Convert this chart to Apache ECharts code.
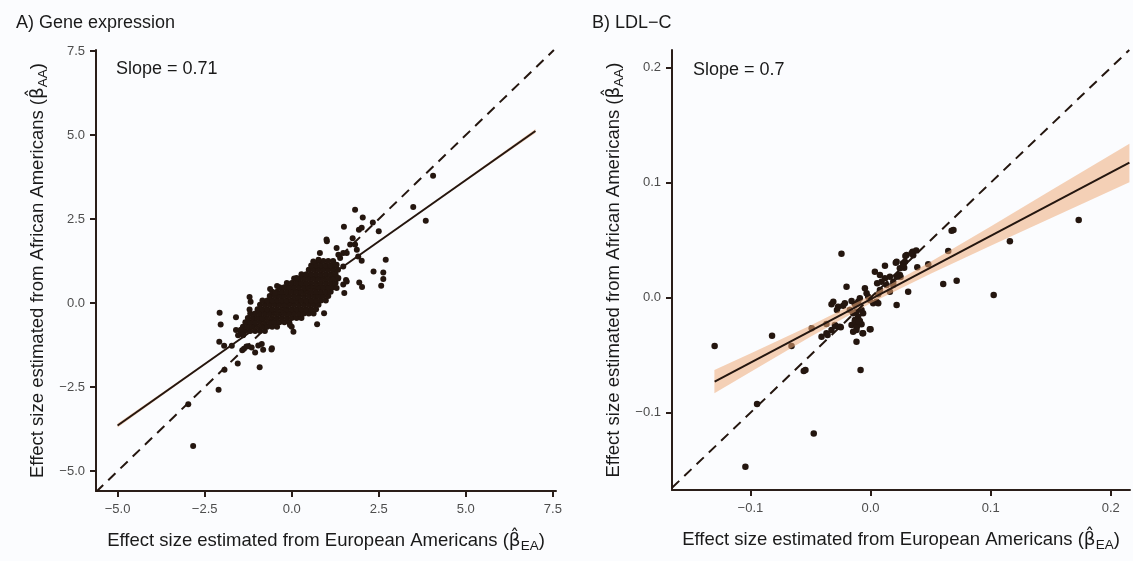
<!DOCTYPE html>
<html><head><meta charset="utf-8">
<script src="https://cdn.jsdelivr.net/npm/echarts@6/dist/echarts.min.js"></script>
<style>html,body{margin:0;padding:0;background:#fbfcfe}#c{width:1133px;height:561px}</style>
</head><body><div id="c"></div>
<script>
// ---- tick values / labels ----
const geneTicks = [-5, -2.5, 0, 2.5, 5, 7.5];
const geneTickLabels = ['\u22125.0', '\u22122.5', '0.0', '2.5', '5.0', '7.5'];
const ldlTicks = [-0.1, 0, 0.1, 0.2];
const ldlTickLabels = ['\u22120.1', '0.0', '0.1', '0.2'];

// ---- Panel A: gene expression (dense core read row by row: [y, xs]) ----
const geneCoreRows = [
  [-0.96, [-1.54, -1.40]],
  [-0.83, [-1.47, -1.33, -1.19, -1.05, -0.91, -0.77]],
  [-0.70, [-1.40, -1.26, -1.12, -0.98, -0.84, -0.70, -0.56, -0.42]],
  [-0.57, [-1.33, -1.19, -1.05, -0.91, -0.77, -0.63, -0.49, -0.35, -0.21, -0.07]],
  [-0.44, [-1.26, -1.12, -0.98, -0.84, -0.70, -0.56, -0.42, -0.28, -0.14, 0.00, 0.14, 0.28]],
  [-0.31, [-1.19, -1.05, -0.91, -0.77, -0.63, -0.49, -0.35, -0.21, -0.07, 0.07, 0.21, 0.35, 0.49, 0.63]],
  [-0.18, [-0.98, -0.84, -0.70, -0.56, -0.42, -0.28, -0.14, 0.00, 0.14, 0.28, 0.42, 0.56, 0.70]],
  [-0.05, [-0.91, -0.77, -0.63, -0.49, -0.35, -0.21, -0.07, 0.07, 0.21, 0.35, 0.49, 0.63, 0.77]],
  [0.08, [-0.84, -0.70, -0.56, -0.42, -0.28, -0.14, 0.00, 0.14, 0.28, 0.42, 0.56, 0.70, 0.84, 0.98]],
  [0.21, [-0.63, -0.49, -0.35, -0.21, -0.07, 0.07, 0.21, 0.35, 0.49, 0.63, 0.77, 0.91, 1.05]],
  [0.34, [-0.56, -0.42, -0.28, -0.14, 0.00, 0.14, 0.28, 0.42, 0.56, 0.70, 0.84, 0.98, 1.12]],
  [0.47, [-0.35, -0.21, -0.07, 0.07, 0.21, 0.35, 0.49, 0.63, 0.77, 0.91, 1.05, 1.19]],
  [0.60, [-0.14, 0.00, 0.14, 0.28, 0.42, 0.56, 0.70, 0.84, 0.98, 1.12, 1.26]],
  [0.73, [0.07, 0.21, 0.35, 0.49, 0.63, 0.77, 0.91, 1.05, 1.19, 1.33]],
  [0.86, [0.28, 0.42, 0.56, 0.70, 0.84, 0.98, 1.12, 1.26]],
  [0.99, [0.49, 0.63, 0.77, 0.91, 1.05, 1.19, 1.33]],
  [1.12, [0.56, 0.70, 0.84, 0.98, 1.12, 1.26]],
  [1.25, [0.77, 0.91, 1.05, 1.19]]
];
// scattered points around the core
const geneEdgePoints = [
  [1.82, 2.78], [1.50, 2.27], [2.04, 2.55], [1.93, 2.18], [2.01, 2.24], [2.33, 2.40], [2.50, 2.14],
  [1.00, 1.89], [1.75, 1.93], [1.68, 1.74], [1.82, 1.74], [0.81, 1.49], [1.29, 1.64], [1.48, 1.49],
  [1.58, 1.49], [1.87, 1.59], [1.91, 1.39], [2.01, 1.26], [2.70, 1.29], [2.35, 0.94], [2.63, 0.91],
  [2.63, 0.72], [2.57, 0.52], [1.94, 0.61], [2.02, 0.48], [1.51, 0.30], [1.56, 0.69], [1.48, 0.55],
  [1.29, 0.45], [1.34, 0.75], [1.48, 1.09], [1.58, 0.64], [1.29, 1.14], [1.39, 1.34], [1.01, 1.84],
  [1.34, 1.44], [0.77, 1.29], [0.62, 1.24], [0.93, -0.30], [0.73, -0.63], [0.05, -0.85], [0.00, -0.70],
  [-0.05, -0.65], [-0.58, -1.38], [-0.92, -1.91], [-1.55, -1.80], [-1.93, -1.98], [-2.10, -2.58],
  [-2.97, -3.01], [-2.83, -4.25], [-2.07, -0.29], [-2.04, -0.64], [-1.60, -0.42], [-2.08, -1.15],
  [-1.94, -1.27], [-1.72, -1.27], [-1.21, 0.18], [-1.18, 0.04], [-1.21, -0.19], [-1.60, -0.80],
  [-1.46, -0.79], [-1.39, -0.94], [-1.42, -1.40], [-1.37, -1.36], [-1.25, -1.28], [-1.15, -1.32],
  [-1.05, -1.47], [-0.96, -1.26], [-0.86, -1.22], [-0.82, -1.39], [-0.57, -1.34], [-1.30, -1.29],
  [-0.62, 0.42], [-0.42, 0.51], [-0.48, 0.30], [0.14, 0.75], [3.49, 2.86], [3.85, 2.45], [4.06, 3.79]
];
const geneFit = [[-5.0, -3.64], [7.0, 5.12]];
const geneBandX = [-5, -2.5, 0, 2.5, 5, 7];
const geneBandLo = [-3.70, -1.84, 0.00, 1.82, 3.63, 5.06];
const geneBandHi = [-3.58, -1.79, 0.02, 1.85, 3.69, 5.18];
const geneIdentity = [[-5.62, -5.62], [7.53, 7.53]];

// ---- Panel B: LDL-C ----
const ldlPoints = [
  [0.1733, 0.0676], [0.116, 0.049], [0.1025, 0.0023], [0.0717, 0.0148], [0.0605, 0.0119],
  [0.0675, 0.0583], [0.069, 0.0589], [0.0647, 0.0406], [0.048, 0.029], [0.0389, 0.0264],
  [0.0313, 0.0052], [0.035, 0.040], [0.038, 0.041], [0.029, 0.0363], [0.0355, 0.037],
  [0.027, 0.030], [0.028, 0.026], [0.025, 0.018], [-0.0242, 0.0383], [-0.020, 0.0096],
  [-0.031, -0.0035], [-0.0325, -0.0057], [-0.027, -0.0078], [-0.028, -0.0107], [-0.0228, -0.007],
  [-0.0214, -0.0049], [-0.0158, -0.0029], [-0.013, -0.0057], [-0.0103, -0.0035], [-0.0089, -0.0005],
  [-0.0172, -0.0107], [-0.0145, -0.0136], [-0.0117, -0.0122], [-0.0075, -0.0107], [-0.0062, -0.0136],
  [-0.0103, -0.0165], [-0.013, -0.0194], [-0.0089, -0.0203], [-0.0158, -0.0237], [-0.0117, -0.0252],
  [-0.0075, -0.0231], [-0.0047, 0.0082], [-0.0033, 0.0038], [-0.002, 0.0009], [-0.0006, -0.002],
  [0.0022, -0.0049], [0.005, -0.0035], [0.0064, 0.003], [0.0078, 0.0067], [0.0055, 0.0125],
  [0.0092, 0.0139], [0.0064, -0.0049], [0.0036, 0.0226], [0.0078, 0.0197], [0.012, 0.0169],
  [0.012, 0.0278], [0.0161, 0.0183], [0.0134, 0.011], [0.0189, 0.0139], [0.0217, 0.0313],
  [0.0244, 0.0256], [0.0272, 0.0284], [0.0244, 0.0197], [0.0217, 0.0183], [0.0161, 0.0052],
  [0.0189, 0.011], [0.0217, -0.0063], [0.0286, 0.0313], [0.030, 0.0371], [0.0342, 0.0386],
  [-0.0256, -0.0252], [-0.0297, -0.0237], [-0.0325, -0.0281], [-0.0367, -0.031], [-0.0408, -0.0339],
  [-0.0145, -0.0296], [-0.0117, -0.0281], [-0.0062, -0.031], [-0.0006, -0.0275], [-0.0117, -0.0383],
  [-0.049, -0.0266], [-0.1298, -0.042], [-0.082, -0.033], [-0.0658, -0.042], [-0.0367, -0.0229],
  [-0.0358, -0.0325], [-0.029, -0.0246], [-0.0248, -0.0257], [-0.0556, -0.0637], [-0.0542, -0.0629],
  [-0.0945, -0.0924], [-0.0473, -0.118], [-0.1042, -0.147], [-0.0112, -0.0246], [-0.0131, -0.0209],
  [-0.0098, -0.0209], [-0.0067, -0.031], [-0.0083, -0.0629], [0.0, -0.0275], [0.021, 0.0304]
];
const ldlFit = [[-0.1298, -0.073], [0.2155, 0.1174]];
const ldlBandX = [-0.13, -0.10, -0.05, 0, 0.05, 0.10, 0.15, 0.2155];
const ldlBandLo = [-0.0831, -0.0646, -0.034, -0.0049, 0.0209, 0.0452, 0.0692, 0.1005];
const ldlBandHi = [-0.0629, -0.0486, -0.0242, 0.0019, 0.0313, 0.062, 0.0932, 0.1339];
const ldlIdentity = [[-0.1653, -0.1653], [0.2154, 0.2154]];

// ---- build ----
const INK = '#24160f';
const AXIS = '#2a1e19';
const FONT = 'Liberation Sans, Arial, Helvetica, sans-serif';
const BAND = 'rgba(238,172,122,0.55)';

const genePoints = [];
geneCoreRows.forEach(([y, xs]) => xs.forEach(x => genePoints.push([x, y])));
geneEdgePoints.forEach(p => genePoints.push(p));

function fmt(ticks, labels) {
  return v => { const i = ticks.findIndex(t => Math.abs(t - v) < 1e-9); return i >= 0 ? labels[i] : ''; };
}
const richName = {
  n: { fontSize: 18.5, color: '#1a1a1a', fontFamily: FONT, lineHeight: 24 },
  b: { fontSize: 18.5, color: '#1a1a1a', fontFamily: 'DejaVu Sans', lineHeight: 24 },
  s: { fontSize: 13.5, color: '#1a1a1a', fontFamily: FONT, lineHeight: 13, padding: [11, 0, 0, 0] }
};
function axis(gridIndex, min, max, ticks, labels, name, isY, gap) {
  return {
    type: 'value', gridIndex, min, max,
    axisLine: { show: true, onZero: false, lineStyle: { color: AXIS, width: 2 } },
    axisTick: { show: true, length: 6, customValues: ticks, lineStyle: { color: AXIS, width: 2 } },
    axisLabel: { customValues: ticks, formatter: fmt(ticks, labels), color: '#4d4d4d', fontSize: 13, fontFamily: FONT, margin: isY ? 11 : 12 },
    splitLine: { show: false },
    name, nameLocation: 'middle', nameGap: gap, nameRotate: isY ? 90 : 0,
    nameTextStyle: { rich: richName }
  };
}
function band(xi, xs, lo, hi) {
  return {
    type: 'custom', xAxisIndex: xi, yAxisIndex: xi, z: 3, silent: true, data: [[xs[0], lo[0]]],
    renderItem: (params, api) => {
      const pts = [];
      xs.forEach((x, i) => pts.push(api.coord([x, hi[i]])));
      for (let i = xs.length - 1; i >= 0; i--) pts.push(api.coord([xs[i], lo[i]]));
      return { type: 'polygon', shape: { points: pts }, style: { fill: BAND } };
    }
  };
}
function lineS(xi, data, dashed) {
  return {
    type: 'line', xAxisIndex: xi, yAxisIndex: xi, data, showSymbol: false, symbol: 'none', z: 4, silent: true,
    lineStyle: { color: INK, width: 2, type: dashed ? [10, 7] : 'solid' }
  };
}
const xNameEA = '{n|Effect size estimated from European Americans (}{b|\u03B2\u0302}{s|EA}{n|)}';
const yNameAA = '{n|Effect size estimated from African Americans (}{b|\u03B2\u0302}{s|AA}{n|)}';
const txt = { fontSize: 18, fontWeight: 'normal', color: '#1a1a1a', fontFamily: FONT };

const chart = echarts.init(document.getElementById('c'), null, { renderer: 'canvas' });
chart.setOption({
  animation: false,
  backgroundColor: '#fbfcfe',
  textStyle: { fontFamily: FONT },
  title: [
    { text: 'A) Gene expression', left: 16, top: 14, padding: 0, textStyle: txt },
    { text: 'B) LDL\u2212C', left: 592, top: 14, padding: 0, textStyle: txt },
    { text: 'Slope = 0.71', left: 116, top: 60, padding: 0, textStyle: txt },
    { text: 'Slope = 0.7', left: 693, top: 61, padding: 0, textStyle: txt }
  ],
  grid: [
    { left: 96, top: 50, width: 460, height: 441, containLabel: false },
    { left: 672, top: 50, width: 458, height: 440, containLabel: false }
  ],
  xAxis: [
    axis(0, -5.62, 7.59, geneTicks, geneTickLabels, xNameEA, false, 38),
    axis(1, -0.1653, 0.216, ldlTicks, ldlTickLabels, xNameEA, false, 38)
  ],
  yAxis: [
    axis(0, -5.59, 7.53, geneTicks, geneTickLabels, yNameAA, true, 46),
    axis(1, -0.1672, 0.2154, ldlTicks, ldlTickLabels, yNameAA, true, 46)
  ],
  series: [
    { type: 'scatter', xAxisIndex: 0, yAxisIndex: 0, data: genePoints, symbolSize: 6, z: 2, itemStyle: { color: INK, opacity: 1 } },
    band(0, geneBandX, geneBandLo, geneBandHi),
    lineS(0, geneFit, false),
    lineS(0, geneIdentity, true),
    { type: 'scatter', xAxisIndex: 1, yAxisIndex: 1, data: ldlPoints, symbolSize: 6.5, z: 2, itemStyle: { color: INK, opacity: 1 } },
    band(1, ldlBandX, ldlBandLo, ldlBandHi),
    lineS(1, ldlFit, false),
    lineS(1, ldlIdentity, true)
  ]
});
</script></body></html>
